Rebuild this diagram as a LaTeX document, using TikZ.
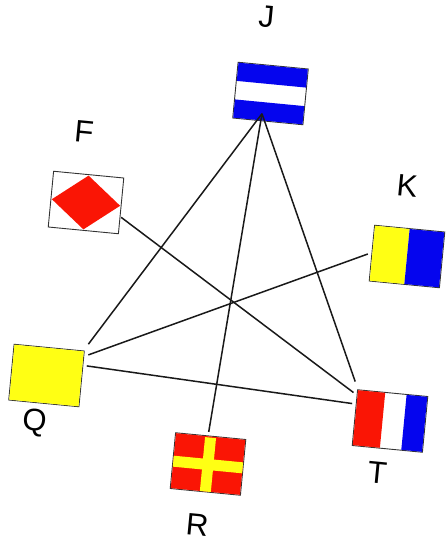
\documentclass[tikz,border=0pt]{standalone}
\usepackage{fontspec}
\setmainfont{Liberation Sans}
\usepackage{xcolor}
\definecolor{flagblue}{HTML}{0505EE}
\definecolor{flagred}{HTML}{FA1505}
\definecolor{flagyellow}{HTML}{FFFF14}

\begin{document}
\begin{tikzpicture}[x=1pt, y=-1pt,
  flag/.style={draw=black!80, line width=0.9pt, fill=white, inner sep=0pt, minimum width=70.5pt, minimum height=56pt, rotate=-5.5},
  letter/.style={inner sep=0pt, rotate=-5.5, font=\fontsize{31}{31}\selectfont},
  link/.style={line width=1.5pt, black!90}]
  \useasboundingbox (0,0) rectangle (445,540);

  % Flags
  \node[flag] (jflag) at (270.5,93.5) {};
  \node[flag] (kflag) at (407,256.5) {};
  \node[flag] (fflag) at (86,202.5) {};
  \node[flag] (qflag) at (46.5,375.5) {};
  \node[flag] (rflag) at (208,464) {};
  \node[flag] (tflag) at (390,421) {};

  % J: blue, white, blue
  \begin{scope}[shift={(jflag.center)}, rotate=-5.5]
    \fill[flagblue] (-34.8,-27.6) rectangle (34.8,-9.3);
    \fill[flagblue] (-34.8,9.3) rectangle (34.8,27.6);
  \end{scope}
  % K: yellow and blue
  \begin{scope}[shift={(kflag.center)}, rotate=-5.5]
    \fill[flagyellow] (-34.8,-27.6) rectangle (0,27.6);
    \fill[flagblue] (0,-27.6) rectangle (34.8,27.6);
  \end{scope}
  % F: red diamond on white
  \begin{scope}[shift={(fflag.center)}, rotate=-5.5]
    \fill[flagred] (-34.3,0) -- (0,-27) -- (34.3,0) -- (0,27) -- cycle;
  \end{scope}
  % Q: plain yellow
  \begin{scope}[shift={(qflag.center)}, rotate=-5.5]
    \fill[flagyellow] (-34.8,-27.6) rectangle (34.8,27.6);
  \end{scope}
  % R: red with yellow cross
  \begin{scope}[shift={(rflag.center)}, rotate=-5.5]
    \fill[flagred] (-34.8,-27.6) rectangle (34.8,27.6);
    \fill[flagyellow] (-5.5,-26.5) rectangle (5.5,27.6);
    \fill[flagyellow] (-34.8,-5) rectangle (34.8,6);
  \end{scope}
  % T: red, white, blue
  \begin{scope}[shift={(tflag.center)}, rotate=-5.5]
    \fill[flagred] (-34.8,-27.6) rectangle (-7.5,27.6);
    \fill[flagblue] (14,-27.6) rectangle (34.8,27.6);
  \end{scope}

  % Letters
  \node[letter] (jletter) at (266.7,16.7) {J};
  \node[letter] (kletter) at (407.3,185.7) {K};
  \node[letter] (fletter) at (84,131.7) {F};
  \node[letter] (qletter) at (34.3,422.7) {Q};
  \node[letter] (rletter) at (197.3,524.5) {R};
  \node[letter] (tletter) at (377.3,472.3) {T};

  % Links between flags
  \draw[link] ([xshift=-5.8pt,yshift=8.1pt]jflag.south) -- ([xshift=3.6pt,yshift=6.4pt]qflag.north east);
  \draw[link] ([xshift=-5.8pt,yshift=8.1pt]jflag.south) -- ([xshift=-2pt,yshift=3.8pt]rflag.north);
  \draw[link] ([xshift=-5.8pt,yshift=8.1pt]jflag.south) -- ([xshift=-2pt,yshift=7.7pt]tflag.north west);
  \draw[link] ([xshift=-0.4pt,yshift=-11.4pt]fflag.east) -- ([xshift=-3.7pt,yshift=-3.3pt]tflag.north west);
  \draw[link] ([xshift=-3.6pt,yshift=-0.9pt]kflag.west) -- ([xshift=3.6pt,yshift=-4.3pt]qflag.north east);
  \draw[link] ([xshift=2pt,yshift=-15.3pt]qflag.north east) -- ([xshift=-5pt,yshift=-14.3pt]tflag.north west);
\end{tikzpicture}
\end{document}
